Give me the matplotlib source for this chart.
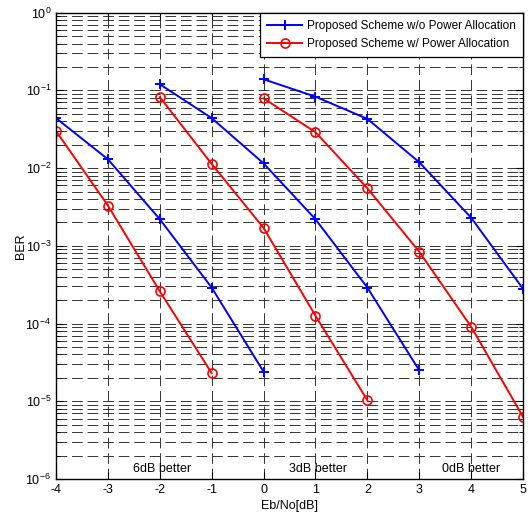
import numpy as np
import matplotlib.pyplot as plt
from matplotlib.ticker import LogLocator, NullFormatter, FixedLocator

plt.rcParams['font.family'] = ['Liberation Sans', 'DejaVu Sans']
plt.rcParams['axes.unicode_minus'] = False

# BER curves
snr_a = [-4, -3, -2, -1, 0]
snr_a_pa = [-4, -3, -2, -1]
ber_a = [0.044, 0.013, 0.0022, 2.9e-4, 2.4e-5]
ber_a_pa = [0.030, 3.3e-3, 2.6e-4, 2.3e-5]

snr_b = [-2, -1, 0, 1, 2, 3]
snr_b_pa = [-2, -1, 0, 1, 2]
ber_b = [0.12, 0.044, 0.0115, 0.0022, 2.9e-4, 2.5e-5]
ber_b_pa = [0.082, 0.0113, 1.7e-3, 1.26e-4, 1.03e-5]

snr_c = [0, 1, 2, 3, 4, 5]
ber_c = [0.139, 0.083, 0.043, 0.0119, 0.0023, 2.8e-4]
ber_c_pa = [0.079, 0.029, 0.0055, 8.4e-4, 9.1e-5, 6.3e-6]

notes = ['6dB better', '3dB better', '0dB better']
note_x = [-1.95, 1.05, 4.0]

fig = plt.figure(figsize=(5.31, 5.17), dpi=100)
ax = fig.add_axes([0.1055, 0.0735, 0.8795, 0.902])

lw = 1.4
pk = dict(lw=lw, ms=7.5, mew=1.4)
ok = dict(lw=lw, ms=6.5, mfc='none', mew=1.2)
ax.semilogy(snr_a, ber_a, 'b-+', label='Proposed Scheme w/o Power Allocation', **pk)
ax.semilogy(snr_a_pa, ber_a_pa, 'r-o', label='Proposed Scheme w/ Power Allocation', **ok)
ax.semilogy(snr_b, ber_b, 'b-+', **pk)
ax.semilogy(snr_b_pa, ber_b_pa, 'r-o', **ok)
ax.semilogy(snr_c, ber_c, 'b-+', **pk)
ax.semilogy(snr_c, ber_c_pa, 'r-o', **ok)

ax.set_xlim(-4, 5)
ax.set_ylim(1e-6, 1e0)
ax.xaxis.set_major_locator(FixedLocator(range(-4, 6)))
ax.yaxis.set_major_locator(LogLocator(base=10, numticks=10))
ax.yaxis.set_minor_locator(LogLocator(base=10, subs=np.arange(2, 10), numticks=20))
ax.yaxis.set_minor_formatter(NullFormatter())

gs = dict(color='0.2', linestyle=(0, (11, 5)), linewidth=0.7)
ax.grid(True, which='major', **gs)
ax.grid(True, which='minor', axis='y', **gs)

ax.tick_params(which='both', direction='in', top=True, right=True, labelsize=9)
ax.tick_params(which='major', length=5)
ax.tick_params(which='minor', length=3)

for s in ax.spines.values():
    s.set_linewidth(1.0)

for t, x in zip(notes, note_x):
    ax.text(x, 1.12e-6, t, ha='center', va='bottom', fontsize=9)

ax.set_xlabel('Eb/No[dB]', fontsize=9, labelpad=3)
ax.set_ylabel('BER', fontsize=9)
ax.yaxis.set_label_coords(-0.062, 0.5)

leg = ax.legend(loc='upper right', fontsize=8.5, fancybox=False, framealpha=1,
                edgecolor='black', borderaxespad=0, handlelength=3.0,
                borderpad=0.6, labelspacing=0.55, handletextpad=0.4)
leg.get_frame().set_linewidth(0.9)

fig.savefig('out.png', dpi=100)
